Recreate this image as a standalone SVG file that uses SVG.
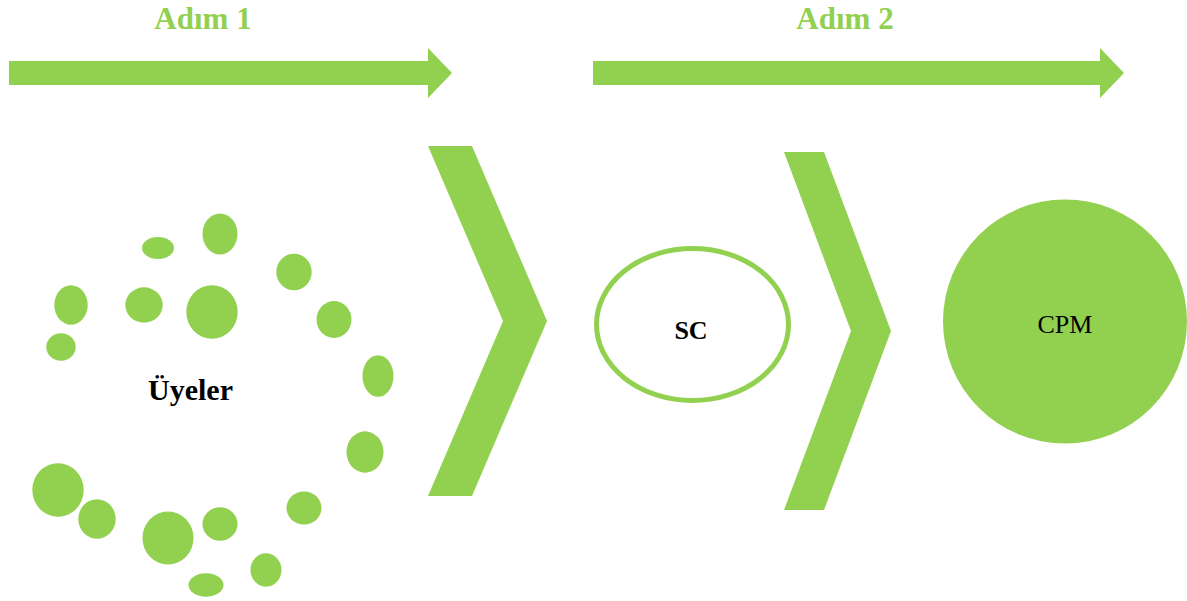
<svg xmlns="http://www.w3.org/2000/svg" width="1187" height="601" viewBox="0 0 1187 601">
<style>
.g{fill:#92D050}
.step{font-family:"Liberation Serif",serif;font-weight:bold;font-size:31px;fill:#92D050;text-anchor:middle}
.lbl{font-family:"Liberation Serif",serif;font-size:26px;fill:#000;text-anchor:middle}
.b{font-weight:bold}
</style>
<rect width="1187" height="601" fill="#fff"/>
<g id="connectors">
<g id="step1-arrow"><polygon class="g" points="9,61 428,61 428,48 452,73 428,98 428,85 9,85"/></g>
<g id="step2-arrow"><polygon class="g" points="593,61 1100,61 1100,48 1124,73 1100,98 1100,85 593,85"/></g>
<g id="chevron1"><polygon class="g" points="428,146 472,146 547,321 472,496 428,496 503,321"/></g>
<g id="chevron2"><polygon class="g" points="784,152 824,152 891,331 824,510 784,510 851,331"/></g>
</g>
<g id="step1-label"><text class="step" x="203" y="29">Adım 1</text></g>
<g id="step2-label"><text class="step" x="845" y="29">Adım 2</text></g>
<g id="members">
<ellipse class="g" cx="158" cy="248" rx="16" ry="11"/>
<ellipse class="g" cx="220" cy="234" rx="17.5" ry="20.5"/>
<ellipse class="g" cx="294" cy="272" rx="17.7" ry="18.3"/>
<ellipse class="g" cx="334" cy="319.5" rx="17.5" ry="18.5"/>
<ellipse class="g" cx="378" cy="376" rx="15.5" ry="20.8"/>
<ellipse class="g" cx="365" cy="452" rx="18.5" ry="20.7"/>
<ellipse class="g" cx="304" cy="508" rx="17.5" ry="16.5"/>
<ellipse class="g" cx="266" cy="570" rx="15.5" ry="16.7"/>
<ellipse class="g" cx="206" cy="585" rx="17.5" ry="11.7"/>
<ellipse class="g" cx="220" cy="524" rx="17.5" ry="16.7"/>
<ellipse class="g" cx="168" cy="538" rx="25.5" ry="26.5"/>
<ellipse class="g" cx="97" cy="519" rx="18.7" ry="19.7"/>
<ellipse class="g" cx="58" cy="490" rx="25.7" ry="26.7"/>
<ellipse class="g" cx="61" cy="347" rx="14.7" ry="13.7"/>
<ellipse class="g" cx="71" cy="305" rx="16.7" ry="19.8"/>
<ellipse class="g" cx="144" cy="305" rx="18.7" ry="17.7"/>
<ellipse class="g" cx="212" cy="312" rx="25.7" ry="26.7"/>
<text class="lbl b" x="190.5" y="400" font-size="30" style="font-size:30px">Üyeler</text>
</g>
<g id="sc">
<ellipse cx="692.5" cy="324.5" rx="96" ry="76" fill="none" stroke="#92D050" stroke-width="5"/>
<text class="lbl b" x="691" y="339">SC</text>
</g>
<g id="cpm">
<circle class="g" cx="1065" cy="321.5" r="122"/>
<text class="lbl" x="1065" y="333">CPM</text>
</g>
</svg>
